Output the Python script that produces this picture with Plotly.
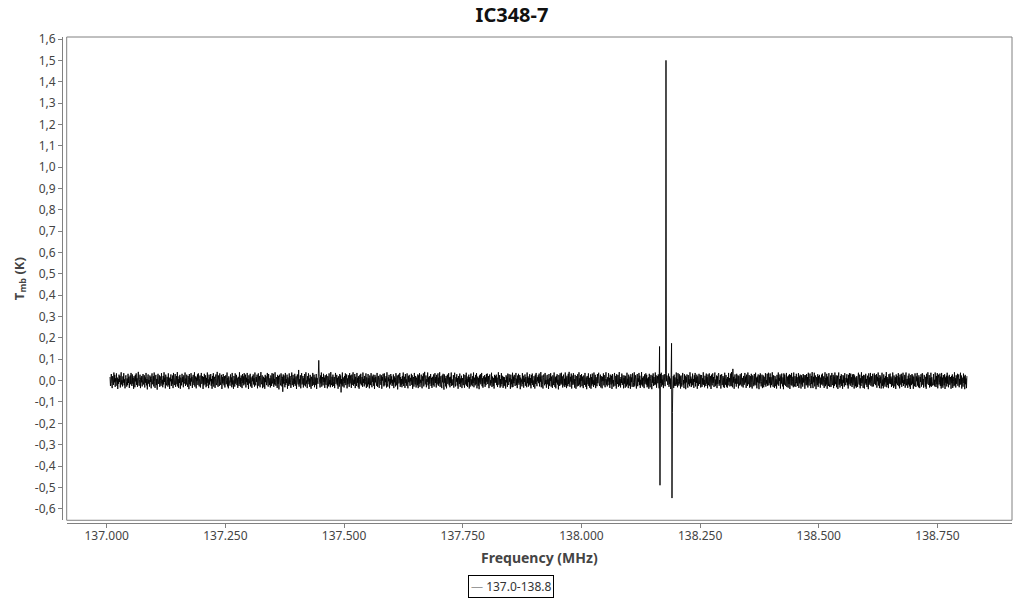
import numpy as np
import plotly.graph_objects as go

# spectrum baseline noise, mK (estimated from the band in the picture)
noise_mk = [
    17,-25,7,31,-13,-35,21,4,-20,38,-8,27,-29,11,-4,34,-24,14,-39,8,
    -15,28,-6,22,-32,13,39,-18,2,-27,20,-10,35,-22,6,-36,15,25,-3,-28,
    10,-21,32,-11,18,-34,3,24,-17,36,-7,-25,29,-14,13,-38,21,8,-31,27,
    -4,34,-20,11,-29,17,41,-13,-24,6,28,-35,14,-8,22,-27,4,31,-18,-2,
    25,-32,15,-10,36,-22,7,-41,20,29,-14,3,-28,24,-6,18,-36,11,34,-17,
    -11,21,-27,38,-3,-34,13,27,-21,8,-42,17,32,-15,-7,25,-29,20,1,-24,
    35,-13,4,-31,22,-18,39,-6,14,-36,28,-10,-22,18,6,-28,34,-20,11,-39,
    15,-3,29,-25,8,-15,24,-35,36,-8,-21,13,31,-29,0,21,-17,40,-27,7,
    -34,20,-11,27,-38,14,3,-22,32,-7,17,-31,25,-14,-4,38,-25,10,-18,28,
    -8,-29,22,6,-40,31,-17,11,-24,35,-4,18,-34,8,27,-13,-21,39,-28,4,
    20,-36,14,-1,29,-20,34,-11,-27,10,24,-32,3,36,-15,-6,21,-39,17,-22,
    32,-7,-17,25,-31,13,-25,38,-10,6,-35,28,-18,15,-3,31,-24,8,-38,22,
    -14,35,-28,4,18,-34,11,29,-21,-8,41,-15,-29,24,7,-25,34,-4,-20,14,
    27,-39,17,-13,31,-6,-22,21,-32,8,25,-17,-1,38,-27,13,-36,20,4,-11,
    -24,29,-8,15,-31,36,-18,1,-38,22,10,-28,34,-14,-6,27,-21,11,-34,18,
    6,-25,39,-15,13,-29,24,-4,-35,31,-11,20,-22,35,-1,-17,28,-32,14,-7,
    36,-20,8,-39,25,-13,3,32,-27,15,-8,-34,21,-3,29,-18,11,-28,38,-10,
    -22,17,-6,28,-36,10,34,-24,-4,22,-31,14,40,-17,-11,25,-35,7,18,-29,
    13,-38,27,-7,20,-21,4,36,-14,-28,31,-1,-20,11,-32,24,15,-25,35,-13,
    -3,32,-29,8,-18,39,-10,-24,17,6,-34,27,-15,21,-41,14,28,-8,-22,34,
    11,-27,18,-52,29,-14,24,-4,-31,36,-20,7,-11,28,-38,15,3,-25,34,-17,
    22,-8,-34,14,38,-21,-1,27,-29,10,-15,32,-24,4,20,-39,13,29,-7,-18,
    50,-28,6,-13,25,-36,17,35,-18,-6,22,-32,11,-22,31,-10,-27,39,-14,1,
    -35,21,-4,34,-17,10,-29,27,-11,-38,18,7,-25,36,-20,-3,28,-31,15,8,
    -21,31,-39,13,1,-15,35,-25,20,-7,-32,24,-13,38,-28,6,17,-22,32,-6,
    14,-34,25,-10,-20,29,-1,-36,21,11,-27,34,-17,3,-31,40,-8,-21,18,-29,
    28,-4,-25,17,-35,8,36,-15,-10,27,-22,13,-38,20,4,-28,31,-14,24,-55,
    7,-18,38,-27,15,-3,-32,22,-11,34,-21,1,29,-36,10,-17,25,-6,-29,35,
    -13,24,-8,-34,28,-20,14,39,-24,4,-15,31,-35,18,-1,-25,36,-10,13,-31,
    21,-38,6,27,-14,32,-22,-7,17,-29,38,-11,8,-27,22,-18,-4,34,-34,15,
    -1,-28,31,-17,11,-36,24,3,-21,35,-13,-31,20,-6,28,-24,14,-39,27,-8,
    18,-11,-24,36,-29,7,22,-17,-34,13,29,-4,-20,25,-38,17,0,32,-15,-27,
    34,-22,10,-7,21,-32,39,-14,-28,15,-3,27,-36,8,-18,31,-10,20,-25,4,
    -17,29,-35,20,-8,13,-27,35,-6,-22,24,-41,11,28,-13,-1,36,-29,17,-20,
    8,-31,22,-15,38,-25,-4,18,-34,31,-11,6,-24,34,-17,-36,21,-7,27,-14,
    -25,13,-3,32,-20,25,-38,10,17,-28,36,-8,-18,22,-32,14,3,-22,29,-35,
    24,-15,35,-29,4,-10,28,-21,-36,20,-1,34,-27,11,41,-18,-13,24,-31,7,
    -6,38,-22,15,-39,21,-14,6,31,-25,13,-34,18,-4,-21,29,-28,8,35,-11,
    17,-32,27,-18,-3,34,-24,14,-13,39,-29,4,21,-20,-35,25,-8,32,-17,-42,
    29,-10,11,-27,22,-36,3,28,-15,-6,35,-22,15,-31,18,-11,38,-25,6,-21,
    -19,26,-33,9,37,-12,-27,16,-5,30,-23,12,-38,21,2,-16,33,-29,10,-9,
    23,-35,12,-2,-21,30,-14,-33,26,5,-18,37,-24,9,-30,19,-7,28,-37,16,
    -28,10,33,-19,6,-26,21,-11,38,-31,14,-4,-22,27,-16,35,-36,3,19,-24,
    12,-40,24,-9,30,-17,-3,36,-26,11,-33,20,5,-14,26,-29,15,-21,31,-5,
    33,-16,-8,21,-35,16,29,-23,2,-12,37,-30,19,-6,-25,13,-37,27,-10,22,
    -9,28,-21,14,-30,5,39,-19,-12,26,-33,7,-27,35,-16,23,-2,-34,18,-26,
    16,-23,3,-37,25,-8,18,-29,33,-13,-20,30,-5,12,-38,28,-17,6,-31,37,
    -30,19,-12,27,-4,-25,15,36,-21,9,-35,24,-10,32,-19,-1,26,-40,14,-7,
    5,-27,35,-16,23,-33,10,-6,29,-24,17,-2,-31,38,-12,20,-28,13,-18,30,
    -23,12,-36,26,-11,33,-20,1,-29,21,8,-37,28,-15,36,-9,-26,16,-3,25,
    -12,33,-27,18,-5,40,-31,9,24,-19,-37,14,29,-8,-22,36,-15,3,-33,21,
    27,-17,6,-39,31,-24,12,-2,35,-28,19,-11,-34,25,8,-21,38,-13,-30,16,
    -36,22,-9,30,-18,4,-41,26,13,-25,34,-6,-19,37,-14,20,-32,10,28,-23,
    9,-30,38,-21,15,-35,23,-7,-26,32,-16,41,-12,-29,18,-4,33,-37,24,-10,
    -20,35,-14,7,-33,27,-3,-38,21,16,-27,30,-9,-24,39,-18,11,-31,26,-1,
    31,-26,19,-13,-35,24,8,-20,36,-11,-29,15,-40,22,5,-17,34,-25,13,-33,
    -7,29,-38,17,-23,33,-16,2,-30,38,-21,10,27,-35,16,-5,-26,31,-12,20,
    37,-14,-25,11,28,-32,21,-9,-36,18,-2,34,-22,26,-15,-31,9,39,-19,6,
    -27,16,-4,35,-21,13,-34,28,-8,-18,23,-39,31,-13,3,-28,19,36,-24,-10,
    22,-37,30,-6,-16,26,-29,14,40,-23,7,-32,17,-11,33,-20,-2,25,-36,12,
    -14,24,-33,21,-1,-27,37,-18,9,-35,28,-12,-23,19,-38,30,-7,15,-29,34,
    18,-9,-30,39,-24,6,25,-16,-37,14,31,-26,11,-5,36,-21,23,-34,4,-17,
    40,-22,13,-28,20,-3,-35,29,-15,-8,34,-19,27,-31,10,-24,16,-38,32,-6,
    -31,11,27,-14,-40,23,-10,34,-25,17,-4,-21,38,-17,25,-33,7,21,-12,29,
    -2,-36,18,-23,31,-11,37,-28,5,-19,26,-35,13,30,-9,-26,35,-15,-3,24,
    14,-20,-7,33,-29,19,-16,10,-39,27,-22,37,-13,-6,21,-34,28,-24,15,-11,
    -25,38,-18,8,-31,35,-5,-23,30,-14,20,-37,24,-10,-28,12,36,-19,3,-35,
    30,-13,23,-40,16,-8,29,-21,-33,26,-17,6,-26,39,-12,19,-30,9,-22,33,
    -19,8,-34,25,-6,36,-27,15,-11,28,-38,20,2,-24,32,-16,-8,27,-32,18,
    26,-29,11,-17,39,-20,4,-31,23,-9,-25,33,-14,16,-36,29,-21,-4,34,-27,
    -8,21,-39,28,-13,-22,34,-10,17,-30,11,38,-26,5,-18,24,-35,20,-15,31,
    35,-24,3,-12,27,-37,19,30,-21,-7,22,-29,14,-34,37,-3,-19,26,-28,9,
    -33,17,-22,36,-5,12,-27,-16,33,-25,40,-13,-31,23,-9,18,-38,11,29,-14,
    10,-28,32,-15,-3,25,-36,21,-11,-23,30,-18,7,35,-27,13,-6,-32,22,-20,
    -16,36,-9,19,-34,28,-1,-25,38,-17,-12,26,-33,8,21,-29,32,-10,-37,24,
    23,-11,-26,31,-19,-5,37,-22,14,-36,19,-8,29,-15,-40,25,-13,34,-4,-27,
    -3,28,-35,10,24,-31,18,-6,-20,35,-28,3,-14,32,-24,11,37,-22,16,-12,
    34,-32,16,-21,8,39,-17,-29,25,-10,-34,22,17,-26,6,-37,27,-7,-18,38,
    -24,13,-1,29,-37,20,-14,33,-8,-27,15,-40,34,-19,28,-11,-24,12,36,-30,
    19,-6,-33,24,-16,30,-39,9,27,-20,36,-24,-5,18,-31,38,-14,-27,21,-3,
    -29,32,-12,16,-25,2,35,-34,20,-13,28,-7,-37,25,-18,14,-28,31,-9,26,
    12,-38,26,-4,-22,31,-19,17,-32,37,-15,-23,9,33,-10,-35,22,-16,40,-21,
    -35,18,-8,37,-27,11,24,-40,16,-3,-21,30,-29,21,-13,27,3,-33,14,-19,
    28,-15,33,-23,-9,20,-34,6,39,-26,13,-18,32,-38,19,-6,-25,35,-12,-30,
    -5,24,-29,14,36,-21,-12,27,-35,19,-24,38,-2,-17,25,-31,10,23,-39,16,
    38,-19,7,-32,22,-14,30,-25,4,-38,26,-10,20,-28,35,-16,-21,13,-8,30,
    -22,10,-37,27,-17,35,-6,-24,33,-12,16,-30,29,-20,-7,31,-37,24,5,-26,
    15,-33,21,-2,-29,18,37,-15,-19,28,-36,11,-25,39,-11,22,-17,-34,27,-8,
    -37,25,-13,32,-20,8,-30,23,-1,-40,34,-19,15,-9,36,-24,21,-4,-28,32,
    20,-27,-8,34,-15,26,-21,-9,31,-33,18,-3,38,-23,12,-35,26,-12,19,-37,
    -11,37,-24,5,-36,29,-18,13,-28,21,-8,40,-31,17,-20,9,-35,30,-14,23,
    33,-16,19,-30,10,-23,38,-12,-34,24,-1,-27,16,-39,29,-13,22,-21,-6,35,
    -26,15,-36,28,-7,-19,32,-29,20,-11,37,-25,3,-16,27,-33,12,38,-22,7,
    8,-34,23,-18,33,-27,11,-39,26,2,-21,31,-14,24,-38,18,-9,-26,34,-16,
    -30,20,-3,36,-23,14,-31,25,-12,-35,17,-6,30,-28,-1,35,-19,8,-33,27,
    25,-9,-28,18,-38,32,-15,7,39,-20,-13,26,-32,12,-24,37,-29,16,-5,-23,
    -15,31,-21,4,-27,38,-10,-30,22,-17,35,-36,9,28,-18,-8,33,-25,19,-37,
    36,-25,14,-33,26,-3,-22,30,-39,15,-10,23,-27,37,-14,20,-31,6,27,-19,
    -9,17,-38,22,-12,29,-34,18,-5,-26,39,-21,11,-32,25,-15,-3,32,-24,13,
    29,-31,8,-20,37,-16,24,-37,14,-6,-28,33,-11,20,-40,27,-17,10,-35,21,
]

freq_first = 137.007
freq_last = 138.812

# narrow features, MHz and mK
feat_freq = [137.447, 138.165, 138.1659, 138.178, 138.1896, 138.1905, 138.1914, 138.319]
feat_mk = [95, 160, -490, 1500, 175, -550, -150, 55]

yticks = [1.6, 1.5, 1.4, 1.3, 1.2, 1.1, 1.0, 0.9, 0.8, 0.7, 0.6, 0.5, 0.4, 0.3, 0.2, 0.1,
          0.0, -0.1, -0.2, -0.3, -0.4, -0.5, -0.6]
ytick_text = ["1,6", "1,5", "1,4", "1,3", "1,2", "1,1", "1,0", "0,9", "0,8", "0,7", "0,6", "0,5",
              "0,4", "0,3", "0,2", "0,1", "0,0", "-0,1", "-0,2", "-0,3", "-0,4", "-0,5", "-0,6"]
xticks = [137.0, 137.25, 137.5, 137.75, 138.0, 138.25, 138.5, 138.75]
xtick_text = ["137.000", "137.250", "137.500", "137.750", "138.000", "138.250", "138.500", "138.750"]

freq = np.linspace(freq_first, freq_last, len(noise_mk))
tmb = np.array(noise_mk, dtype=float)
for f, v in zip(feat_freq, feat_mk):
    tmb[np.argmin(np.abs(freq - f))] = v
tmb = tmb / 1000.0

fig = go.Figure()
fig.add_trace(go.Scatter(x=freq, y=tmb, mode="lines", name="137.0-138.8", showlegend=False,
                         line=dict(color="black", width=0.9, simplify=False)))

gray = "#808080"
fig.update_layout(
    width=1024, height=600,
    margin=dict(l=0, r=12, t=37, b=0),
    paper_bgcolor="white", plot_bgcolor="white",
    font=dict(family="Noto Sans", size=12, color="#444"),
    title=dict(text="<b>IC348-7</b>", xref="container", yref="container", x=0.5, xanchor="center",
               y=0.975, yanchor="middle", font=dict(size=20, color="#111")),
    xaxis=dict(domain=[0.0659, 1.0], range=[136.9157, 138.907], anchor="free", position=0.1359,
               automargin=False, ticklabelstandoff=-3,
               tickvals=xticks, ticktext=xtick_text, ticks="outside", ticklen=4, tickcolor=gray,
               showline=True, linecolor=gray, showgrid=False, zeroline=False,
               title=dict(text="<b>Frequency (MHz)</b>", font=dict(size=14, color="#444"), standoff=10)),
    yaxis=dict(domain=[0.1416, 1.0], range=[-0.654, 1.6094], anchor="free", position=0.0613,
               automargin=False,
               tickvals=yticks, ticktext=ytick_text, ticks="outside", ticklen=4, tickcolor=gray,
               showline=True, linecolor=gray, showgrid=False, zeroline=False,
               title=dict(text="<b>T<sub>mb</sub> (K)</b>", font=dict(size=13, color="#444"), standoff=6)),
)
fig.add_shape(type="rect", xref="x domain", yref="y domain", x0=0, x1=1, y0=0, y1=1,
              line=dict(color=gray, width=1), layer="above")

# legend box
fig.add_annotation(text="<span style='color:#999'>—</span> 137.0-138.8", xref="paper", yref="paper",
                   x=0.505, y=0.0231, xanchor="center", yanchor="middle", showarrow=False,
                   font=dict(size=12, color="#333"), bordercolor="black", borderwidth=1, borderpad=2,
                   bgcolor="white")

fig.write_html("out.html", config={"displayModeBar": False},
               post_script="document.body.style.margin='0';")
